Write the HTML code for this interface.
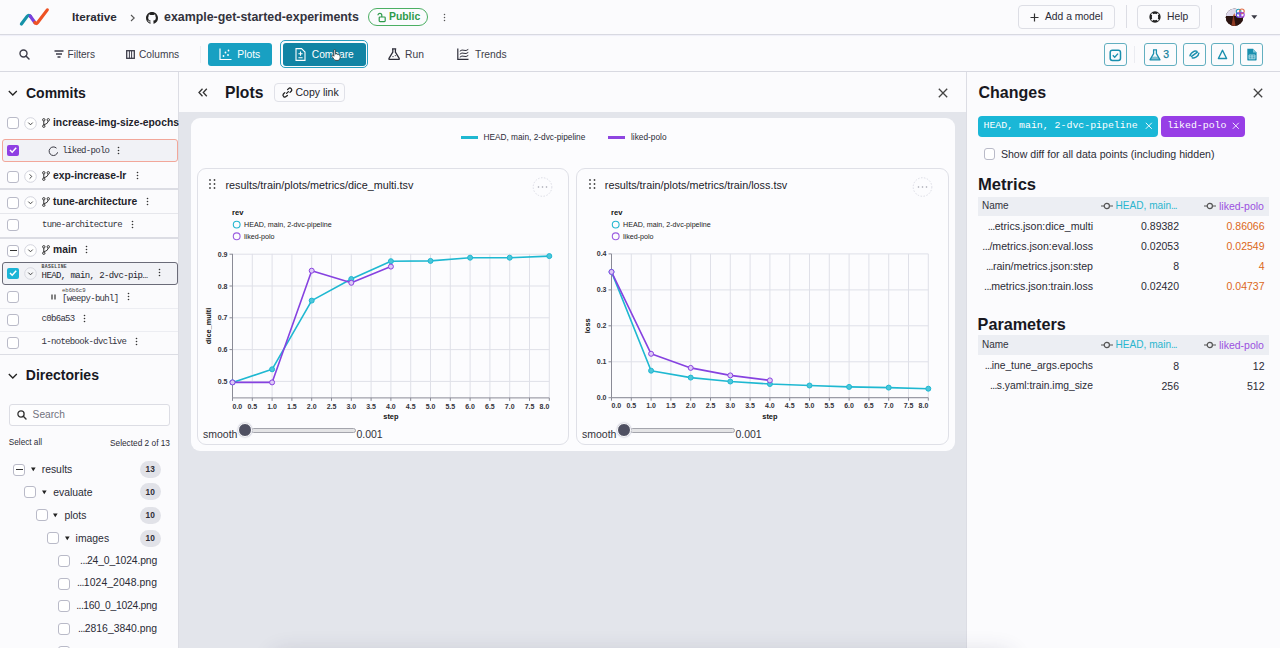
<!DOCTYPE html>
<html><head><meta charset="utf-8"><title>Plots</title>
<style>
*{box-sizing:border-box;margin:0;padding:0}
html,body{width:1280px;height:648px;overflow:hidden}
body{position:relative;background:#fbfbfd;font-family:"Liberation Sans",Arial,sans-serif;color:#2b2b36}
.a{position:absolute}
.t{position:absolute;white-space:nowrap;line-height:1}
.mono{font-family:"Liberation Mono",monospace}
.b{font-weight:bold}
.hl{position:absolute;height:1px;background:#dcdde4}
.vl{position:absolute;width:1px;background:#dcdde4}
.btn{position:absolute;border:1px solid #dddee5;border-radius:4px}
.cb{position:absolute;width:12px;height:12px;border:1px solid #b9bac8;border-radius:3px;background:#fff}
.tbtn{position:absolute;border:1px solid #62afc0;border-radius:3px;height:23px;top:43px}
svg{position:absolute;overflow:visible}
</style></head><body>

<!-- ================= TOP BAR ================= -->
<svg style="left:0;top:0" width="60" height="34">
  <g fill="none" stroke-width="3.2" stroke-linecap="round" stroke-linejoin="round">
  <path d="M21.4 24 L27.1 16.4 Q28.8 14.2 30.5 16.4" stroke="#1592a8"/>
  <path d="M30.2 16 L34.8 22.5" stroke="#7a40dc"/>
  <path d="M34.8 22.5 Q36.2 24.5 37.7 22.6 L47.3 9.9" stroke="#ee5224"/>
  </g>
</svg>
<div class="t b" style="left:72px;top:11px;font-size:11.7px;color:#2a2a33">Iterative</div>
<svg style="left:129px;top:14px" width="8" height="8"><path d="M2 1 L5.2 4 L2 7" fill="none" stroke="#555" stroke-width="1.1"/></svg>
<svg style="left:146px;top:11.5px" width="12" height="12" viewBox="0 0 16 16"><path fill="#222" d="M8 0C3.58 0 0 3.58 0 8c0 3.54 2.29 6.53 5.47 7.59.4.07.55-.17.55-.38 0-.19-.01-.82-.01-1.49-2.01.37-2.53-.49-2.69-.94-.09-.23-.48-.94-.82-1.13-.28-.15-.68-.52-.01-.53.63-.01 1.08.58 1.23.82.72 1.21 1.87.87 2.33.66.07-.52.28-.87.51-1.07-1.78-.2-3.64-.89-3.64-3.95 0-.87.31-1.59.82-2.15-.08-.2-.36-1.02.08-2.12 0 0 .67-.21 2.2.82.64-.18 1.32-.27 2-.27.68 0 1.36.09 2 .27 1.53-1.04 2.2-.82 2.2-.82.44 1.1.16 1.92.08 2.12.51.56.82 1.27.82 2.15 0 3.07-1.87 3.75-3.65 3.95.29.25.54.73.54 1.48 0 1.07-.01 1.93-.01 2.2 0 .21.15.46.55.38A8.013 8.013 0 0016 8c0-4.42-3.58-8-8-8z"/></svg>
<div class="t b" style="left:164px;top:11px;font-size:12.4px;color:#33333d">example-get-started-experiments</div>
<div class="a" style="left:368px;top:8px;width:60px;height:18px;border:1px solid #4caf63;border-radius:9px"></div>
<svg style="left:377px;top:12px" width="9" height="11"><rect x="2.2" y="5" width="6" height="4.6" rx="0.8" fill="none" stroke="#2e9a4a" stroke-width="1.2"/><path d="M2.2 5 V3.2 A1.9 1.9 0 0 0 -1.6 3.2" transform="translate(2.6 0)" fill="none" stroke="#2e9a4a" stroke-width="1.2"/></svg>
<div class="t b" style="left:389px;top:12px;font-size:10.4px;color:#2e9a4a">Public</div>
<svg style="left:443px;top:13px" width="3" height="10"><circle cx="1.5" cy="1.5" r="0.75" fill="#555"/><circle cx="1.5" cy="4.5" r="0.75" fill="#555"/><circle cx="1.5" cy="7.5" r="0.75" fill="#555"/></svg>

<div class="btn" style="left:1018px;top:5px;width:97px;height:24px"></div>
<svg style="left:1030px;top:13px" width="9" height="9"><path d="M4.5 0.5 V8.5 M0.5 4.5 H8.5" stroke="#333" stroke-width="1.2"/></svg>
<div class="t" style="left:1045px;top:12px;font-size:10.3px;color:#2b2b36">Add a model</div>
<div class="vl" style="left:1126px;top:5px;height:23px"></div>
<div class="btn" style="left:1137px;top:5px;width:63px;height:24px"></div>
<svg style="left:1149px;top:11px" width="12" height="12"><circle cx="6" cy="6" r="4.4" fill="none" stroke="#222" stroke-width="2.5"/><path d="M2.6 2.6 L4.2 4.2 M9.4 2.6 L7.8 4.2 M2.6 9.4 L4.2 7.8 M9.4 9.4 L7.8 7.8" stroke="#fbfbfd" stroke-width="1.7"/></svg>
<div class="t" style="left:1167px;top:12px;font-size:10.3px;color:#2b2b36">Help</div>
<div class="vl" style="left:1211px;top:5px;height:23px"></div>
<svg style="left:1225px;top:8px" width="22" height="20">
  <defs><clipPath id="av"><circle cx="9.5" cy="9.2" r="8.7"/></clipPath></defs>
  <g clip-path="url(#av)"><rect x="0" y="0" width="20" height="20" fill="#2c1512"/><rect x="0" y="0" width="20" height="8" fill="#ddd9ec"/><path d="M0 9 Q5 7 9 9 Q14 7 20 9 V20 H0Z" fill="#2a1310"/><path d="M6 20 L8.5 6.5 L11 20Z" fill="#8e3a22"/><path d="M8 8 L9.3 5 L10.3 8Z" fill="#c0603a"/></g>
  <circle cx="15" cy="5.3" r="4.6" fill="#fff" opacity="0.85"/>
  <g fill="none" stroke-width="1.1"><circle cx="13.6" cy="3.6" r="2.3" stroke="#2a9fb8"/><circle cx="16.9" cy="3.3" r="2.3" stroke="#e0704a"/><circle cx="13.6" cy="7" r="2.3" stroke="#5b3fd8"/><circle cx="16.9" cy="6.8" r="2.3" stroke="#9a3fd8"/></g>
</svg>
<svg style="left:1251px;top:15px" width="7" height="5"><path d="M0.3 0.3 H6.3 L3.3 4Z" fill="#3a3a44"/></svg>

<div class="hl" style="left:0;top:34px;width:1280px;background:#d8d9e1;box-shadow:0 1px 1px rgba(120,120,200,0.10)"></div>

<!-- ================= TOOLBAR ================= -->
<svg style="left:19px;top:48.5px" width="11" height="11"><circle cx="4.5" cy="4.5" r="3.5" fill="none" stroke="#3d3d4a" stroke-width="1.4"/><path d="M7 7 L10 10" stroke="#3d3d4a" stroke-width="1.5" stroke-linecap="round"/></svg>
<svg style="left:54px;top:50px" width="10" height="9"><path d="M0.5 1 H9.5 M2 4 H8 M3.5 7 H6.5" stroke="#3d3d4a" stroke-width="1.3"/></svg>
<div class="t" style="left:67.5px;top:50px;font-size:10.1px;color:#3d3d4a">Filters</div>
<svg style="left:125.5px;top:50px" width="9" height="9"><rect x="0.7" y="0.7" width="7.6" height="7.6" fill="none" stroke="#3d3d4a" stroke-width="1.3"/><path d="M3.4 0.7 V8.3 M5.6 0.7 V8.3" stroke="#3d3d4a" stroke-width="1"/></svg>
<div class="t" style="left:139px;top:50px;font-size:10.2px;color:#3d3d4a">Columns</div>
<div class="vl" style="left:199.5px;top:46px;height:17px;background:#ebecf1"></div>

<div class="a" style="left:208px;top:43px;width:64px;height:23px;background:#18a0c2;border-radius:3px"></div>
<svg style="left:219px;top:48px" width="13" height="13"><path d="M1 0.5 V11.5 H12.5" fill="none" stroke="#fff" stroke-width="1.2"/><circle cx="4.5" cy="8" r="0.9" fill="#fff"/><circle cx="6.5" cy="4.5" r="0.9" fill="#fff"/><circle cx="9" cy="7" r="0.9" fill="#fff"/><circle cx="9.5" cy="2.5" r="0.9" fill="#fff"/></svg>
<div class="t" style="left:237.3px;top:49.5px;font-size:10.3px;color:#fff">Plots</div>

<div class="a" style="left:280px;top:40px;width:88px;height:28px;border:1.8px solid #2a9fc0;border-radius:5px"></div>
<div class="a" style="left:283px;top:42.5px;width:83px;height:23.5px;background:#1184a4;border-radius:3px"></div>
<svg style="left:295px;top:48px" width="11" height="13"><path d="M1 0.6 H6.5 L10 4 V12.4 H1 Z" fill="none" stroke="#fff" stroke-width="1.1"/><path d="M5.5 3.6 V7.8 M3.4 5.7 H7.6 M3.4 9.8 H7.6" fill="none" stroke="#fff" stroke-width="1.1"/></svg>
<div class="t" style="left:311.8px;top:49.5px;font-size:10.2px;color:#fff">Compare</div>
<svg style="left:330.8px;top:49.2px" width="10" height="12" viewBox="0 0 12 14"><path d="M3.5 1.5 Q3.5 0.5 4.5 0.5 Q5.5 0.5 5.5 1.5 V6 L6.5 5.5 Q7.5 5.5 8 6.5 Q9 6 9.5 7 Q10.5 7 11 8 V10.5 Q10.5 13 8.5 13.5 H6 Q4.5 13.5 3.5 12 L1 8.5 Q0.5 7.5 1.5 7.2 Q2.5 7 3.5 8.5Z" fill="#fff" stroke="#222" stroke-width="0.9"/></svg>

<svg style="left:388px;top:48px" width="13" height="13"><path d="M4 0.8 H8.2 M4.8 0.8 V4.2 L1 10.4 Q0.6 11.4 1.6 11.4 H10.6 Q11.6 11.4 11.2 10.4 L7.4 4.2 V0.8" fill="none" stroke="#2e2e3a" stroke-width="1.3" stroke-linejoin="round"/><circle cx="5" cy="8.6" r="0.7" fill="#2e2e3a"/><circle cx="7.3" cy="7.6" r="0.6" fill="#2e2e3a"/></svg>
<div class="t" style="left:405px;top:50px;font-size:10.3px;color:#3d3d4a">Run</div>
<svg style="left:457px;top:48px" width="13" height="13"><path d="M0.8 0.5 V11.3 H11.5" fill="none" stroke="#2e2e3a" stroke-width="1.2"/><path d="M2.8 9.2 Q5 7.3 7 8.3 Q9 9.2 11.3 7.4 M2.8 6.2 Q5 4.3 7 5.3 Q9 6.2 11.3 4.4 M2.8 3.2 Q5 1.3 7 2.3 Q9 3.2 11.3 1.4" fill="none" stroke="#2e2e3a" stroke-width="1"/></svg>
<div class="t" style="left:475px;top:50px;font-size:10.3px;color:#3d3d4a">Trends</div>

<!-- right toolbar icons -->
<div class="tbtn" style="left:1104px;width:23px"></div>
<svg style="left:1109px;top:48.5px" width="13" height="13"><rect x="1.2" y="1.2" width="10.3" height="10.3" rx="2.2" fill="none" stroke="#1a8fae" stroke-width="1.5"/><path d="M3.8 6.3 L5.7 8.2 L9 4.6" fill="none" stroke="#1a8fae" stroke-width="1.4"/></svg>
<div class="vl" style="left:1134px;top:46px;height:17px;background:#ebecf1"></div>
<div class="tbtn" style="left:1144px;width:33px"></div>
<svg style="left:1149px;top:48.5px" width="12" height="12"><path d="M4 0.8 H8 M4.6 0.8 V4.6 L1 10.8 H11 L7.4 4.6 V0.8" fill="none" stroke="#1a8fae" stroke-width="1.3" stroke-linejoin="round"/><path d="M2.6 8.2 Q6 7 9.4 8.2 L10.6 10.6 H1.4Z" fill="#1a8fae" opacity="0.55"/></svg>
<div class="t" style="left:1163.3px;top:49.6px;font-size:10.4px;color:#14809c;-webkit-text-stroke:0.25px #14809c">3</div>
<div class="tbtn" style="left:1183px;width:23px"></div>
<svg style="left:1188px;top:49px" width="13" height="11"><g fill="none" stroke="#1a8fae" stroke-width="1.5" stroke-linecap="round"><path d="M2 6.8 Q2.5 4 6 2.3 Q8 1.5 8.8 2.3"/><path d="M4.3 8.8 Q5.5 9.5 8 8.2 Q10.6 6.8 10.8 4.3"/><path d="M3.6 7.4 L9.4 3.2"/></g></svg>
<div class="tbtn" style="left:1211px;width:23px"></div>
<svg style="left:1217px;top:49px" width="11" height="11"><path d="M5.5 1.2 L9.6 9.5 H1.4 Z" fill="none" stroke="#1a8fae" stroke-width="1.4" stroke-linejoin="round"/></svg>
<div class="tbtn" style="left:1240px;width:23px"></div>
<svg style="left:1246px;top:47.5px" width="12" height="13"><path d="M1.3 0.8 H7 L10.6 4.4 V11.8 Q10.6 12.4 10 12.4 H1.9 Q1.3 12.4 1.3 11.8Z" fill="#1a8fae"/><path d="M7 0.8 V4.4 H10.6" fill="#7fc6d6"/><path d="M3 7 H9 V10.8 H3Z M3 8.9 H9 M6 7 V10.8" fill="none" stroke="#d8f1f6" stroke-width="0.7"/></svg>

<div class="hl" style="left:0;top:71px;width:1280px;background:#d8d9e1"></div>

<!-- ================= LEFT SIDEBAR ================= -->
<div class="vl" style="left:178px;top:72px;height:576px"></div>
<svg style="left:8px;top:90px" width="10" height="7"><path d="M0.8 1 L4.8 5 L8.8 1" fill="none" stroke="#222" stroke-width="1.3"/></svg>
<div class="t b" style="left:26px;top:86px;font-size:14px;color:#18181f">Commits</div>

<!-- row: increase-img-size-epochs -->
<div class="cb" style="left:7px;top:117px"></div>
<svg style="left:24px;top:117px" width="13" height="13"><circle cx="6.5" cy="6.5" r="5.8" fill="#fff" stroke="#cfd0da" stroke-width="0.9"/><path d="M4.3 5.6 L6.5 7.8 L8.7 5.6" fill="none" stroke="#444" stroke-width="1"/></svg>
<svg style="left:41.5px;top:118px" width="8" height="10"><circle cx="1.8" cy="1.8" r="1.2" fill="none" stroke="#333" stroke-width="1"/><circle cx="1.8" cy="8.2" r="1.2" fill="none" stroke="#333" stroke-width="1"/><circle cx="6.3" cy="1.8" r="1.2" fill="none" stroke="#333" stroke-width="1"/><path d="M1.8 3 V7 M6.3 3 Q6.3 5.5 1.8 7" fill="none" stroke="#333" stroke-width="1"/></svg>
<div class="t b" style="left:53px;top:117.5px;font-size:10.3px;color:#22222a">increase-img-size-epochs</div>

<!-- row: liked-polo (selected) -->
<div class="a" style="left:2px;top:139px;width:176px;height:23px;border:1px solid #f2a79a;border-radius:3px;background:#f1f2f6"></div>
<div class="a" style="left:7px;top:144.5px;width:12px;height:11px;border-radius:2px;background:#8f3fe3"></div>
<svg style="left:8px;top:145px" width="10" height="10"><path d="M2 5 L4.2 7.2 L8.2 2.8" fill="none" stroke="#fff" stroke-width="1.5"/></svg>
<svg style="left:47.5px;top:145.5px" width="11" height="11"><path d="M8.5 2.2 A4.3 4.3 0 1 0 9.6 6.3" fill="none" stroke="#3a3a44" stroke-width="1"/></svg>
<div class="t mono" style="left:62.3px;top:146.5px;font-size:9px;letter-spacing:-0.7px;color:#33333d">liked-polo</div>
<svg style="left:117px;top:146px" width="3" height="10"><circle cx="1.5" cy="1.5" r="0.8" fill="#333"/><circle cx="1.5" cy="4.5" r="0.8" fill="#333"/><circle cx="1.5" cy="7.5" r="0.8" fill="#333"/></svg>

<!-- row: exp-increase-lr -->
<div class="cb" style="left:7px;top:170.5px"></div>
<svg style="left:24px;top:170px" width="13" height="13"><circle cx="6.5" cy="6.5" r="5.8" fill="#fff" stroke="#cfd0da" stroke-width="0.9"/><path d="M5.6 4.3 L7.8 6.5 L5.6 8.7" fill="none" stroke="#444" stroke-width="1"/></svg>
<svg style="left:41.5px;top:171px" width="8" height="10"><circle cx="1.8" cy="1.8" r="1.2" fill="none" stroke="#333" stroke-width="1"/><circle cx="1.8" cy="8.2" r="1.2" fill="none" stroke="#333" stroke-width="1"/><circle cx="6.3" cy="1.8" r="1.2" fill="none" stroke="#333" stroke-width="1"/><path d="M1.8 3 V7 M6.3 3 Q6.3 5.5 1.8 7" fill="none" stroke="#333" stroke-width="1"/></svg>
<div class="t b" style="left:53px;top:170.5px;font-size:10.3px;color:#22222a">exp-increase-lr</div>
<svg style="left:135.5px;top:171px" width="3" height="10"><circle cx="1.5" cy="1.5" r="0.8" fill="#333"/><circle cx="1.5" cy="4.5" r="0.8" fill="#333"/><circle cx="1.5" cy="7.5" r="0.8" fill="#333"/></svg>
<div class="hl" style="left:0;top:188px;width:178px;height:1.5px"></div>

<!-- row: tune-architecture -->
<div class="cb" style="left:7px;top:196.5px"></div>
<svg style="left:24px;top:196px" width="13" height="13"><circle cx="6.5" cy="6.5" r="5.8" fill="#fff" stroke="#cfd0da" stroke-width="0.9"/><path d="M4.3 5.6 L6.5 7.8 L8.7 5.6" fill="none" stroke="#444" stroke-width="1"/></svg>
<svg style="left:41.5px;top:197px" width="8" height="10"><circle cx="1.8" cy="1.8" r="1.2" fill="none" stroke="#333" stroke-width="1"/><circle cx="1.8" cy="8.2" r="1.2" fill="none" stroke="#333" stroke-width="1"/><circle cx="6.3" cy="1.8" r="1.2" fill="none" stroke="#333" stroke-width="1"/><path d="M1.8 3 V7 M6.3 3 Q6.3 5.5 1.8 7" fill="none" stroke="#333" stroke-width="1"/></svg>
<div class="t b" style="left:53px;top:196.5px;font-size:10.3px;color:#22222a">tune-architecture</div>
<svg style="left:146px;top:197px" width="3" height="10"><circle cx="1.5" cy="1.5" r="0.8" fill="#333"/><circle cx="1.5" cy="4.5" r="0.8" fill="#333"/><circle cx="1.5" cy="7.5" r="0.8" fill="#333"/></svg>
<div class="hl" style="left:0;top:212.5px;width:178px;background:#e6e7ec"></div>
<div class="cb" style="left:7px;top:219px"></div>
<div class="t mono" style="left:42px;top:221px;font-size:9px;letter-spacing:-0.7px;color:#33333d">tune-architecture</div>
<svg style="left:130.5px;top:219.5px" width="3" height="10"><circle cx="1.5" cy="1.5" r="0.8" fill="#333"/><circle cx="1.5" cy="4.5" r="0.8" fill="#333"/><circle cx="1.5" cy="7.5" r="0.8" fill="#333"/></svg>
<div class="hl" style="left:0;top:237px;width:178px;height:1.5px"></div>

<!-- row: main -->
<div class="cb" style="left:7px;top:244.5px"></div>
<div class="a" style="left:9.5px;top:250px;width:7px;height:1.3px;background:#333"></div>
<svg style="left:24px;top:244px" width="13" height="13"><circle cx="6.5" cy="6.5" r="5.8" fill="#fff" stroke="#cfd0da" stroke-width="0.9"/><path d="M4.3 5.6 L6.5 7.8 L8.7 5.6" fill="none" stroke="#444" stroke-width="1"/></svg>
<svg style="left:41.5px;top:245px" width="8" height="10"><circle cx="1.8" cy="1.8" r="1.2" fill="none" stroke="#333" stroke-width="1"/><circle cx="1.8" cy="8.2" r="1.2" fill="none" stroke="#333" stroke-width="1"/><circle cx="6.3" cy="1.8" r="1.2" fill="none" stroke="#333" stroke-width="1"/><path d="M1.8 3 V7 M6.3 3 Q6.3 5.5 1.8 7" fill="none" stroke="#333" stroke-width="1"/></svg>
<div class="t b" style="left:53px;top:244.5px;font-size:10.3px;color:#22222a">main</div>
<svg style="left:84.5px;top:245px" width="3" height="10"><circle cx="1.5" cy="1.5" r="0.8" fill="#333"/><circle cx="1.5" cy="4.5" r="0.8" fill="#333"/><circle cx="1.5" cy="7.5" r="0.8" fill="#333"/></svg>

<!-- row: HEAD baseline -->
<div class="a" style="left:2px;top:262px;width:176px;height:22.5px;border:1px solid #6a6b78;border-radius:3px;background:#f1f2f6"></div>
<div class="a" style="left:7px;top:267.5px;width:12px;height:11.5px;border-radius:2px;background:#1cb4d6"></div>
<svg style="left:8px;top:268px" width="10" height="10"><path d="M2 5 L4.2 7.2 L8.2 2.8" fill="none" stroke="#fff" stroke-width="1.5"/></svg>
<svg style="left:24px;top:266.5px" width="13" height="13"><circle cx="6.5" cy="6.5" r="5.8" fill="#f4f5f8" stroke="#d4d5de" stroke-width="0.9"/><path d="M4.3 5.6 L6.5 7.8 L8.7 5.6" fill="none" stroke="#444" stroke-width="1"/></svg>
<div class="t mono b" style="left:41.6px;top:264.8px;font-size:4.8px;color:#444;letter-spacing:0.3px">BASELINE</div>
<div class="t mono" style="left:41.6px;top:272px;font-size:9px;letter-spacing:-0.6px;color:#25252e">HEAD, main, 2-dvc-pip…</div>
<svg style="left:157.5px;top:268px" width="3" height="10"><circle cx="1.5" cy="1.5" r="0.8" fill="#333"/><circle cx="1.5" cy="4.5" r="0.8" fill="#333"/><circle cx="1.5" cy="7.5" r="0.8" fill="#333"/></svg>

<!-- row: eb6b6c9 -->
<div class="cb" style="left:7px;top:290.5px"></div>
<svg style="left:50.5px;top:293.5px" width="5" height="6"><path d="M1 0.5 V5.5 M4 0.5 V5.5" stroke="#333" stroke-width="1.2"/></svg>
<div class="t mono" style="left:62px;top:288px;font-size:5.6px;color:#444">eb6b6c9</div>
<div class="t mono" style="left:62px;top:295.3px;font-size:9px;letter-spacing:-0.7px;color:#33333d">[weepy-buhl]</div>
<svg style="left:127px;top:291.5px" width="3" height="10"><circle cx="1.5" cy="1.5" r="0.8" fill="#333"/><circle cx="1.5" cy="4.5" r="0.8" fill="#333"/><circle cx="1.5" cy="7.5" r="0.8" fill="#333"/></svg>

<div class="hl" style="left:0;top:307.5px;width:178px;background:#ecedf2"></div>
<div class="hl" style="left:0;top:331px;width:178px;background:#ecedf2"></div>
<!-- row: c0b6a53 -->
<div class="cb" style="left:7px;top:313.5px"></div>
<div class="t mono" style="left:41.6px;top:315.2px;font-size:9px;letter-spacing:-0.7px;color:#33333d">c0b6a53</div>
<svg style="left:83px;top:314px" width="3" height="10"><circle cx="1.5" cy="1.5" r="0.8" fill="#333"/><circle cx="1.5" cy="4.5" r="0.8" fill="#333"/><circle cx="1.5" cy="7.5" r="0.8" fill="#333"/></svg>

<!-- row: 1-notebook-dvclive -->
<div class="cb" style="left:7px;top:336.5px"></div>
<div class="t mono" style="left:41.6px;top:338.2px;font-size:9px;letter-spacing:-0.7px;color:#33333d">1-notebook-dvclive</div>
<svg style="left:135px;top:337px" width="3" height="10"><circle cx="1.5" cy="1.5" r="0.8" fill="#333"/><circle cx="1.5" cy="4.5" r="0.8" fill="#333"/><circle cx="1.5" cy="7.5" r="0.8" fill="#333"/></svg>
<div class="hl" style="left:0;top:353.5px;width:178px"></div>

<!-- Directories -->
<svg style="left:8px;top:373px" width="10" height="7"><path d="M0.8 1 L4.8 5 L8.8 1" fill="none" stroke="#222" stroke-width="1.3"/></svg>
<div class="t b" style="left:25.8px;top:368px;font-size:14px;color:#18181f">Directories</div>
<div class="a" style="left:8.5px;top:404px;width:161px;height:21.5px;border:1px solid #dcdde4;border-radius:3px;background:#fdfdfe"></div>
<svg style="left:16.5px;top:410px" width="10" height="10"><circle cx="4" cy="4" r="3.1" fill="none" stroke="#333" stroke-width="1.3"/><path d="M6.3 6.3 L9 9" stroke="#333" stroke-width="1.4" stroke-linecap="round"/></svg>
<div class="t" style="left:32.6px;top:409.5px;font-size:10.2px;color:#71717d">Search</div>
<div class="t" style="left:8.8px;top:439px;font-size:8.2px;color:#2b2b36">Select all</div>
<div class="t" style="left:110px;top:439px;font-size:8.3px;color:#2b2b36">Selected 2 of 13</div>

<!-- tree -->
<div class="cb" style="left:13px;top:463.5px"></div>
<div class="a" style="left:15.5px;top:469px;width:7px;height:1.3px;background:#333"></div>
<svg style="left:30.5px;top:467px" width="5" height="5"><path d="M0 0.5 H4.6 L2.3 4.2Z" fill="#222"/></svg>
<div class="t" style="left:41.7px;top:465.0px;font-size:10.4px;color:#2b2b36">results</div>
<div class="a" style="left:140px;top:460.8px;width:20.5px;height:17px;border-radius:8.5px;background:#e1e2e8"></div>
<div class="t b" style="left:140.2px;top:465.2px;width:20px;text-align:center;font-size:8.3px;color:#2e2e36">13</div>

<div class="cb" style="left:24.3px;top:486px"></div>
<svg style="left:42px;top:489.5px" width="5" height="5"><path d="M0 0.5 H4.6 L2.3 4.2Z" fill="#222"/></svg>
<div class="t" style="left:53.2px;top:487.5px;font-size:10.4px;color:#2b2b36">evaluate</div>
<div class="a" style="left:140px;top:483.3px;width:20.5px;height:17px;border-radius:8.5px;background:#e1e2e8"></div>
<div class="t b" style="left:140.2px;top:487.7px;width:20px;text-align:center;font-size:8.3px;color:#2e2e36">10</div>

<div class="cb" style="left:35.7px;top:509px"></div>
<svg style="left:53.2px;top:512.5px" width="5" height="5"><path d="M0 0.5 H4.6 L2.3 4.2Z" fill="#222"/></svg>
<div class="t" style="left:64.5px;top:510.5px;font-size:10.4px;color:#2b2b36">plots</div>
<div class="a" style="left:140px;top:506.8px;width:20.5px;height:17px;border-radius:8.5px;background:#e1e2e8"></div>
<div class="t b" style="left:140.2px;top:511.2px;width:20px;text-align:center;font-size:8.3px;color:#2e2e36">10</div>

<div class="cb" style="left:47px;top:532px"></div>
<svg style="left:64.5px;top:535.5px" width="5" height="5"><path d="M0 0.5 H4.6 L2.3 4.2Z" fill="#222"/></svg>
<div class="t" style="left:75.6px;top:533.5px;font-size:10.4px;color:#2b2b36">images</div>
<div class="a" style="left:140px;top:529.8px;width:20.5px;height:17px;border-radius:8.5px;background:#e1e2e8"></div>
<div class="t b" style="left:140.2px;top:534.2px;width:20px;text-align:center;font-size:8.3px;color:#2e2e36">10</div>

<div class="cb" style="left:58.3px;top:555px"></div>
<div class="t" style="right:1123px;top:555.5px;font-size:10.4px;letter-spacing:-0.17px;color:#2b2b36"><span style="letter-spacing:-0.6px">...</span>24_0_1024.png</div>
<div class="cb" style="left:58.3px;top:577.5px"></div>
<div class="t" style="right:1123px;top:578px;font-size:10.4px;letter-spacing:0.07px;color:#2b2b36"><span style="letter-spacing:-0.6px">...</span>1024_2048.png</div>
<div class="cb" style="left:58.3px;top:600px"></div>
<div class="t" style="right:1123px;top:600.5px;font-size:10.4px;letter-spacing:-0.3px;color:#2b2b36"><span style="letter-spacing:-0.6px">...</span>160_0_1024.png</div>
<div class="cb" style="left:58.3px;top:623px"></div>
<div class="t" style="right:1123px;top:623.5px;font-size:10.4px;letter-spacing:0.0px;color:#2b2b36"><span style="letter-spacing:-0.6px">...</span>2816_3840.png</div>
<div class="cb" style="left:58.3px;top:646px"></div>

<!-- ================= MIDDLE ================= -->
<div class="a" style="left:179px;top:112px;width:787px;height:536px;background:#e3e5eb"></div>
<svg style="left:197.5px;top:88px" width="10" height="9"><path d="M4.5 0.8 L1 4.5 L4.5 8.2 M8.8 0.8 L5.3 4.5 L8.8 8.2" fill="none" stroke="#333" stroke-width="1.3"/></svg>
<div class="t b" style="left:225px;top:85px;font-size:15.7px;color:#18181f">Plots</div>
<div class="btn" style="left:274px;top:83px;width:71px;height:18.5px;border-color:#e0e1e8"></div>
<svg style="left:281.5px;top:86.5px" width="11" height="11"><path d="M4.6 6.4 L6.4 4.6 M5.6 2.6 L6.8 1.4 Q8 0.4 9.2 1.6 Q10.4 2.8 9.4 4 L8 5.4 M5.4 8.4 L4 9.6 Q2.8 10.6 1.5 9.4 Q0.4 8.2 1.4 7 L2.8 5.6" fill="none" stroke="#222" stroke-width="1.3" stroke-linecap="round"/></svg>
<div class="t" style="left:295.5px;top:87px;font-size:10.5px;color:#22222a">Copy link</div>
<svg style="left:937.5px;top:87.5px" width="10" height="10"><path d="M0.8 0.8 L9.2 9.2 M9.2 0.8 L0.8 9.2" stroke="#444" stroke-width="1.3"/></svg>

<div class="a" style="left:191px;top:117.5px;width:763.5px;height:333.5px;background:#fcfcfe;border-radius:9px"></div>
<div class="a" style="left:460.5px;top:136px;width:17px;height:2.6px;background:#1fb8d1"></div>
<div class="t" style="left:483.4px;top:133px;font-size:8.3px;color:#2b2b36">HEAD, main, 2-dvc-pipeline</div>
<div class="a" style="left:608px;top:136px;width:17px;height:2.6px;background:#8e45e0"></div>
<div class="t" style="left:631px;top:133px;font-size:8.3px;color:#2b2b36">liked-polo</div>

<div class="a" style="left:196.5px;top:168.3px;width:372.5px;height:277px;border:1px solid #dfe0e7;border-radius:9px;background:#fcfcfe"></div>
<div class="a" style="left:576px;top:168.3px;width:373px;height:277px;border:1px solid #dfe0e7;border-radius:9px;background:#fcfcfe"></div>
<svg style="left:209px;top:179px" width="7" height="11"><g fill="#444"><circle cx="1" cy="1" r="0.9"/><circle cx="5.5" cy="1" r="0.9"/><circle cx="1" cy="5" r="0.9"/><circle cx="5.5" cy="5" r="0.9"/><circle cx="1" cy="9" r="0.9"/><circle cx="5.5" cy="9" r="0.9"/></g></svg>
<div class="t" style="left:225.5px;top:179.5px;font-size:10.8px;color:#22222a">results/train/plots/metrics/dice_multi.tsv</div>
<svg style="left:532px;top:176.5px" width="21" height="21"><circle cx="10.5" cy="10" r="9.3" fill="none" stroke="#dcdde6" stroke-width="1" stroke-dasharray="1.5 1.5"/><g fill="#a0a1ad"><circle cx="6.5" cy="10" r="0.8"/><circle cx="10.5" cy="10" r="0.8"/><circle cx="14.5" cy="10" r="0.8"/></g></svg>
<svg style="left:588.5px;top:179px" width="7" height="11"><g fill="#444"><circle cx="1" cy="1" r="0.9"/><circle cx="5.5" cy="1" r="0.9"/><circle cx="1" cy="5" r="0.9"/><circle cx="5.5" cy="5" r="0.9"/><circle cx="1" cy="9" r="0.9"/><circle cx="5.5" cy="9" r="0.9"/></g></svg>
<div class="t" style="left:604.8px;top:179.5px;font-size:10.8px;color:#22222a">results/train/plots/metrics/train/loss.tsv</div>
<svg style="left:911.5px;top:176.5px" width="21" height="21"><circle cx="10.5" cy="10" r="9.3" fill="none" stroke="#dcdde6" stroke-width="1" stroke-dasharray="1.5 1.5"/><g fill="#a0a1ad"><circle cx="6.5" cy="10" r="0.8"/><circle cx="10.5" cy="10" r="0.8"/><circle cx="14.5" cy="10" r="0.8"/></g></svg>

<svg style="left:0;top:0" width="1280" height="648" class="ch">
<style>
.ch .g{stroke:#dfe0e8;stroke-width:1}
.ch .ax{stroke:#8a8b96;stroke-width:1}
.ch text{font-family:"Liberation Sans",Arial,sans-serif}
.ch .tk{font-size:7px;fill:#33333b;font-weight:bold}
.ch .al{font-size:7.4px;fill:#111;font-weight:bold}
.ch .rv{font-size:7.6px;fill:#111;font-weight:bold}
.ch .lg{font-size:7.15px;fill:#222}
</style>
<line x1="232.5" y1="253.9" x2="232.5" y2="397.9" class="g"/>
<line x1="252.3" y1="253.9" x2="252.3" y2="397.9" class="g"/>
<line x1="272.1" y1="253.9" x2="272.1" y2="397.9" class="g"/>
<line x1="291.9" y1="253.9" x2="291.9" y2="397.9" class="g"/>
<line x1="311.7" y1="253.9" x2="311.7" y2="397.9" class="g"/>
<line x1="331.5" y1="253.9" x2="331.5" y2="397.9" class="g"/>
<line x1="351.3" y1="253.9" x2="351.3" y2="397.9" class="g"/>
<line x1="371.1" y1="253.9" x2="371.1" y2="397.9" class="g"/>
<line x1="390.9" y1="253.9" x2="390.9" y2="397.9" class="g"/>
<line x1="410.7" y1="253.9" x2="410.7" y2="397.9" class="g"/>
<line x1="430.5" y1="253.9" x2="430.5" y2="397.9" class="g"/>
<line x1="450.3" y1="253.9" x2="450.3" y2="397.9" class="g"/>
<line x1="470.1" y1="253.9" x2="470.1" y2="397.9" class="g"/>
<line x1="489.9" y1="253.9" x2="489.9" y2="397.9" class="g"/>
<line x1="509.7" y1="253.9" x2="509.7" y2="397.9" class="g"/>
<line x1="529.5" y1="253.9" x2="529.5" y2="397.9" class="g"/>
<line x1="549.3" y1="253.9" x2="549.3" y2="397.9" class="g"/>
<line x1="232.5" y1="254.2" x2="549.3" y2="254.2" class="g"/>
<line x1="229.5" y1="254.2" x2="232.5" y2="254.2" class="ax"/>
<text x="227.5" y="256.7" class="tk" text-anchor="end">0.9</text>
<line x1="232.5" y1="286.0" x2="549.3" y2="286.0" class="g"/>
<line x1="229.5" y1="286.0" x2="232.5" y2="286.0" class="ax"/>
<text x="227.5" y="288.5" class="tk" text-anchor="end">0.8</text>
<line x1="232.5" y1="317.8" x2="549.3" y2="317.8" class="g"/>
<line x1="229.5" y1="317.8" x2="232.5" y2="317.8" class="ax"/>
<text x="227.5" y="320.3" class="tk" text-anchor="end">0.7</text>
<line x1="232.5" y1="349.6" x2="549.3" y2="349.6" class="g"/>
<line x1="229.5" y1="349.6" x2="232.5" y2="349.6" class="ax"/>
<text x="227.5" y="352.1" class="tk" text-anchor="end">0.6</text>
<line x1="232.5" y1="381.4" x2="549.3" y2="381.4" class="g"/>
<line x1="229.5" y1="381.4" x2="232.5" y2="381.4" class="ax"/>
<text x="227.5" y="383.9" class="tk" text-anchor="end">0.5</text>
<line x1="232.5" y1="253.9" x2="232.5" y2="397.9" class="ax"/>
<line x1="232.5" y1="397.9" x2="549.3" y2="397.9" class="ax"/>
<line x1="232.5" y1="397.9" x2="232.5" y2="400.9" class="ax"/>
<text x="232.5" y="408.6" class="tk" text-anchor="start">0.0</text>
<line x1="252.3" y1="397.9" x2="252.3" y2="400.9" class="ax"/>
<text x="252.3" y="408.6" class="tk" text-anchor="middle">0.5</text>
<line x1="272.1" y1="397.9" x2="272.1" y2="400.9" class="ax"/>
<text x="272.1" y="408.6" class="tk" text-anchor="middle">1.0</text>
<line x1="291.9" y1="397.9" x2="291.9" y2="400.9" class="ax"/>
<text x="291.9" y="408.6" class="tk" text-anchor="middle">1.5</text>
<line x1="311.7" y1="397.9" x2="311.7" y2="400.9" class="ax"/>
<text x="311.7" y="408.6" class="tk" text-anchor="middle">2.0</text>
<line x1="331.5" y1="397.9" x2="331.5" y2="400.9" class="ax"/>
<text x="331.5" y="408.6" class="tk" text-anchor="middle">2.5</text>
<line x1="351.3" y1="397.9" x2="351.3" y2="400.9" class="ax"/>
<text x="351.3" y="408.6" class="tk" text-anchor="middle">3.0</text>
<line x1="371.1" y1="397.9" x2="371.1" y2="400.9" class="ax"/>
<text x="371.1" y="408.6" class="tk" text-anchor="middle">3.5</text>
<line x1="390.9" y1="397.9" x2="390.9" y2="400.9" class="ax"/>
<text x="390.9" y="408.6" class="tk" text-anchor="middle">4.0</text>
<line x1="410.7" y1="397.9" x2="410.7" y2="400.9" class="ax"/>
<text x="410.7" y="408.6" class="tk" text-anchor="middle">4.5</text>
<line x1="430.5" y1="397.9" x2="430.5" y2="400.9" class="ax"/>
<text x="430.5" y="408.6" class="tk" text-anchor="middle">5.0</text>
<line x1="450.3" y1="397.9" x2="450.3" y2="400.9" class="ax"/>
<text x="450.3" y="408.6" class="tk" text-anchor="middle">5.5</text>
<line x1="470.1" y1="397.9" x2="470.1" y2="400.9" class="ax"/>
<text x="470.1" y="408.6" class="tk" text-anchor="middle">6.0</text>
<line x1="489.9" y1="397.9" x2="489.9" y2="400.9" class="ax"/>
<text x="489.9" y="408.6" class="tk" text-anchor="middle">6.5</text>
<line x1="509.7" y1="397.9" x2="509.7" y2="400.9" class="ax"/>
<text x="509.7" y="408.6" class="tk" text-anchor="middle">7.0</text>
<line x1="529.5" y1="397.9" x2="529.5" y2="400.9" class="ax"/>
<text x="529.5" y="408.6" class="tk" text-anchor="middle">7.5</text>
<line x1="549.3" y1="397.9" x2="549.3" y2="400.9" class="ax"/>
<text x="549.3" y="408.6" class="tk" text-anchor="end">8.0</text>
<text x="390.9" y="418.9" class="al" text-anchor="middle">step</text>
<text transform="translate(211.0,325.9) rotate(-90)" class="al" text-anchor="middle">dice_multi</text>
<polyline points="232.5,382.4 272.1,369.3 311.7,300.6 351.3,279.0 390.9,261.2 430.5,260.9 470.1,257.7 509.7,257.7 549.3,256.1" fill="none" stroke="#1fb8d1" stroke-width="1.6" stroke-linejoin="round"/>
<polyline points="232.5,382.4 272.1,382.4 311.7,270.7 351.3,282.8 390.9,266.6" fill="none" stroke="#8642e0" stroke-width="1.6" stroke-linejoin="round"/>
<circle cx="232.5" cy="382.4" r="2.5" fill="#4cc6db" stroke="#1fb8d1" stroke-width="1"/>
<circle cx="272.1" cy="369.3" r="2.5" fill="#4cc6db" stroke="#1fb8d1" stroke-width="1"/>
<circle cx="311.7" cy="300.6" r="2.5" fill="#4cc6db" stroke="#1fb8d1" stroke-width="1"/>
<circle cx="351.3" cy="279.0" r="2.5" fill="#4cc6db" stroke="#1fb8d1" stroke-width="1"/>
<circle cx="390.9" cy="261.2" r="2.5" fill="#4cc6db" stroke="#1fb8d1" stroke-width="1"/>
<circle cx="430.5" cy="260.9" r="2.5" fill="#4cc6db" stroke="#1fb8d1" stroke-width="1"/>
<circle cx="470.1" cy="257.7" r="2.5" fill="#4cc6db" stroke="#1fb8d1" stroke-width="1"/>
<circle cx="509.7" cy="257.7" r="2.5" fill="#4cc6db" stroke="#1fb8d1" stroke-width="1"/>
<circle cx="549.3" cy="256.1" r="2.5" fill="#4cc6db" stroke="#1fb8d1" stroke-width="1"/>
<circle cx="232.5" cy="382.4" r="2.5" fill="#dccaf6" stroke="#8a43e0" stroke-width="1"/>
<circle cx="272.1" cy="382.4" r="2.5" fill="#dccaf6" stroke="#8a43e0" stroke-width="1"/>
<circle cx="311.7" cy="270.7" r="2.5" fill="#dccaf6" stroke="#8a43e0" stroke-width="1"/>
<circle cx="351.3" cy="282.8" r="2.5" fill="#dccaf6" stroke="#8a43e0" stroke-width="1"/>
<circle cx="390.9" cy="266.6" r="2.5" fill="#dccaf6" stroke="#8a43e0" stroke-width="1"/>
<text x="232.0" y="215.3" class="rv">rev</text>
<circle cx="236.7" cy="224.6" r="3.4" fill="none" stroke="#25b6cf" stroke-width="1.1"/>
<text x="244.0" y="227.3" class="lg">HEAD, main, 2-dvc-pipeline</text>
<circle cx="236.7" cy="236.3" r="3.4" fill="none" stroke="#9b5ee0" stroke-width="1.1"/>
<text x="244.0" y="239.0" class="lg">liked-polo</text>
<line x1="611.5" y1="253.9" x2="611.5" y2="397.7" class="g"/>
<line x1="631.3" y1="253.9" x2="631.3" y2="397.7" class="g"/>
<line x1="651.1" y1="253.9" x2="651.1" y2="397.7" class="g"/>
<line x1="670.9" y1="253.9" x2="670.9" y2="397.7" class="g"/>
<line x1="690.7" y1="253.9" x2="690.7" y2="397.7" class="g"/>
<line x1="710.5" y1="253.9" x2="710.5" y2="397.7" class="g"/>
<line x1="730.3" y1="253.9" x2="730.3" y2="397.7" class="g"/>
<line x1="750.1" y1="253.9" x2="750.1" y2="397.7" class="g"/>
<line x1="769.9" y1="253.9" x2="769.9" y2="397.7" class="g"/>
<line x1="789.7" y1="253.9" x2="789.7" y2="397.7" class="g"/>
<line x1="809.5" y1="253.9" x2="809.5" y2="397.7" class="g"/>
<line x1="829.3" y1="253.9" x2="829.3" y2="397.7" class="g"/>
<line x1="849.1" y1="253.9" x2="849.1" y2="397.7" class="g"/>
<line x1="868.9" y1="253.9" x2="868.9" y2="397.7" class="g"/>
<line x1="888.7" y1="253.9" x2="888.7" y2="397.7" class="g"/>
<line x1="908.5" y1="253.9" x2="908.5" y2="397.7" class="g"/>
<line x1="928.3" y1="253.9" x2="928.3" y2="397.7" class="g"/>
<line x1="611.5" y1="253.9" x2="928.3" y2="253.9" class="g"/>
<line x1="608.5" y1="253.9" x2="611.5" y2="253.9" class="ax"/>
<text x="606.5" y="256.4" class="tk" text-anchor="end">0.4</text>
<line x1="611.5" y1="289.9" x2="928.3" y2="289.9" class="g"/>
<line x1="608.5" y1="289.9" x2="611.5" y2="289.9" class="ax"/>
<text x="606.5" y="292.4" class="tk" text-anchor="end">0.3</text>
<line x1="611.5" y1="325.8" x2="928.3" y2="325.8" class="g"/>
<line x1="608.5" y1="325.8" x2="611.5" y2="325.8" class="ax"/>
<text x="606.5" y="328.3" class="tk" text-anchor="end">0.2</text>
<line x1="611.5" y1="361.8" x2="928.3" y2="361.8" class="g"/>
<line x1="608.5" y1="361.8" x2="611.5" y2="361.8" class="ax"/>
<text x="606.5" y="364.2" class="tk" text-anchor="end">0.1</text>
<line x1="611.5" y1="397.7" x2="928.3" y2="397.7" class="g"/>
<line x1="608.5" y1="397.7" x2="611.5" y2="397.7" class="ax"/>
<text x="606.5" y="400.2" class="tk" text-anchor="end">0.0</text>
<line x1="611.5" y1="253.9" x2="611.5" y2="397.7" class="ax"/>
<line x1="611.5" y1="397.7" x2="928.3" y2="397.7" class="ax"/>
<line x1="611.5" y1="397.7" x2="611.5" y2="400.7" class="ax"/>
<text x="611.5" y="408.4" class="tk" text-anchor="start">0.0</text>
<line x1="631.3" y1="397.7" x2="631.3" y2="400.7" class="ax"/>
<text x="631.3" y="408.4" class="tk" text-anchor="middle">0.5</text>
<line x1="651.1" y1="397.7" x2="651.1" y2="400.7" class="ax"/>
<text x="651.1" y="408.4" class="tk" text-anchor="middle">1.0</text>
<line x1="670.9" y1="397.7" x2="670.9" y2="400.7" class="ax"/>
<text x="670.9" y="408.4" class="tk" text-anchor="middle">1.5</text>
<line x1="690.7" y1="397.7" x2="690.7" y2="400.7" class="ax"/>
<text x="690.7" y="408.4" class="tk" text-anchor="middle">2.0</text>
<line x1="710.5" y1="397.7" x2="710.5" y2="400.7" class="ax"/>
<text x="710.5" y="408.4" class="tk" text-anchor="middle">2.5</text>
<line x1="730.3" y1="397.7" x2="730.3" y2="400.7" class="ax"/>
<text x="730.3" y="408.4" class="tk" text-anchor="middle">3.0</text>
<line x1="750.1" y1="397.7" x2="750.1" y2="400.7" class="ax"/>
<text x="750.1" y="408.4" class="tk" text-anchor="middle">3.5</text>
<line x1="769.9" y1="397.7" x2="769.9" y2="400.7" class="ax"/>
<text x="769.9" y="408.4" class="tk" text-anchor="middle">4.0</text>
<line x1="789.7" y1="397.7" x2="789.7" y2="400.7" class="ax"/>
<text x="789.7" y="408.4" class="tk" text-anchor="middle">4.5</text>
<line x1="809.5" y1="397.7" x2="809.5" y2="400.7" class="ax"/>
<text x="809.5" y="408.4" class="tk" text-anchor="middle">5.0</text>
<line x1="829.3" y1="397.7" x2="829.3" y2="400.7" class="ax"/>
<text x="829.3" y="408.4" class="tk" text-anchor="middle">5.5</text>
<line x1="849.1" y1="397.7" x2="849.1" y2="400.7" class="ax"/>
<text x="849.1" y="408.4" class="tk" text-anchor="middle">6.0</text>
<line x1="868.9" y1="397.7" x2="868.9" y2="400.7" class="ax"/>
<text x="868.9" y="408.4" class="tk" text-anchor="middle">6.5</text>
<line x1="888.7" y1="397.7" x2="888.7" y2="400.7" class="ax"/>
<text x="888.7" y="408.4" class="tk" text-anchor="middle">7.0</text>
<line x1="908.5" y1="397.7" x2="908.5" y2="400.7" class="ax"/>
<text x="908.5" y="408.4" class="tk" text-anchor="middle">7.5</text>
<line x1="928.3" y1="397.7" x2="928.3" y2="400.7" class="ax"/>
<text x="928.3" y="408.4" class="tk" text-anchor="end">8.0</text>
<text x="769.9" y="418.7" class="al" text-anchor="middle">step</text>
<text transform="translate(590.0,325.8) rotate(-90)" class="al" text-anchor="middle">loss</text>
<polyline points="611.5,271.9 651.1,370.7 690.7,377.6 730.3,381.5 769.9,384.0 809.5,385.5 849.1,386.9 888.7,387.6 928.3,388.7" fill="none" stroke="#1fb8d1" stroke-width="1.6" stroke-linejoin="round"/>
<polyline points="611.5,271.9 651.1,353.8 690.7,367.9 730.3,375.4 769.9,380.4" fill="none" stroke="#8642e0" stroke-width="1.6" stroke-linejoin="round"/>
<circle cx="611.5" cy="271.9" r="2.5" fill="#4cc6db" stroke="#1fb8d1" stroke-width="1"/>
<circle cx="651.1" cy="370.7" r="2.5" fill="#4cc6db" stroke="#1fb8d1" stroke-width="1"/>
<circle cx="690.7" cy="377.6" r="2.5" fill="#4cc6db" stroke="#1fb8d1" stroke-width="1"/>
<circle cx="730.3" cy="381.5" r="2.5" fill="#4cc6db" stroke="#1fb8d1" stroke-width="1"/>
<circle cx="769.9" cy="384.0" r="2.5" fill="#4cc6db" stroke="#1fb8d1" stroke-width="1"/>
<circle cx="809.5" cy="385.5" r="2.5" fill="#4cc6db" stroke="#1fb8d1" stroke-width="1"/>
<circle cx="849.1" cy="386.9" r="2.5" fill="#4cc6db" stroke="#1fb8d1" stroke-width="1"/>
<circle cx="888.7" cy="387.6" r="2.5" fill="#4cc6db" stroke="#1fb8d1" stroke-width="1"/>
<circle cx="928.3" cy="388.7" r="2.5" fill="#4cc6db" stroke="#1fb8d1" stroke-width="1"/>
<circle cx="611.5" cy="271.9" r="2.5" fill="#dccaf6" stroke="#8a43e0" stroke-width="1"/>
<circle cx="651.1" cy="353.8" r="2.5" fill="#dccaf6" stroke="#8a43e0" stroke-width="1"/>
<circle cx="690.7" cy="367.9" r="2.5" fill="#dccaf6" stroke="#8a43e0" stroke-width="1"/>
<circle cx="730.3" cy="375.4" r="2.5" fill="#dccaf6" stroke="#8a43e0" stroke-width="1"/>
<circle cx="769.9" cy="380.4" r="2.5" fill="#dccaf6" stroke="#8a43e0" stroke-width="1"/>
<text x="611.0" y="215.3" class="rv">rev</text>
<circle cx="615.7" cy="224.6" r="3.4" fill="none" stroke="#25b6cf" stroke-width="1.1"/>
<text x="623.0" y="227.3" class="lg">HEAD, main, 2-dvc-pipeline</text>
<circle cx="615.7" cy="236.3" r="3.4" fill="none" stroke="#9b5ee0" stroke-width="1.1"/>
<text x="623.0" y="239.0" class="lg">liked-polo</text>
</svg>

<div class="t" style="left:203px;top:428.5px;font-size:10.5px;color:#33333b">smooth</div>
<div class="a" style="left:250.5px;top:428px;width:105px;height:4.6px;background:#e4e4e6;border:1px solid #a4a5ad;border-radius:3px"></div>
<div class="a" style="left:238.3px;top:423.4px;width:14px;height:14px;border-radius:50%;background:#4f5062;border:1.3px solid #fff;box-shadow:0 0 1.5px 0.5px #c8c9d6"></div>
<div class="t" style="left:356.4px;top:429px;font-size:10.5px;color:#33333b">0.001</div>
<div class="t" style="left:582px;top:428.5px;font-size:10.5px;color:#33333b">smooth</div>
<div class="a" style="left:629.5px;top:428px;width:105px;height:4.6px;background:#e4e4e6;border:1px solid #a4a5ad;border-radius:3px"></div>
<div class="a" style="left:617.3px;top:423.4px;width:14px;height:14px;border-radius:50%;background:#4f5062;border:1.3px solid #fff;box-shadow:0 0 1.5px 0.5px #c8c9d6"></div>
<div class="t" style="left:735.4px;top:429px;font-size:10.5px;color:#33333b">0.001</div>

<!-- ================= RIGHT PANEL ================= -->
<div class="vl" style="left:966px;top:72px;height:576px"></div>
<div class="t b" style="left:978.5px;top:85px;font-size:16px;color:#18181f">Changes</div>
<svg style="left:1252.5px;top:87.5px" width="10" height="10"><path d="M0.8 0.8 L9.2 9.2 M9.2 0.8 L0.8 9.2" stroke="#444" stroke-width="1.3"/></svg>
<div class="a" style="left:978px;top:115.5px;width:179.5px;height:21px;border-radius:4px;background:#1ab7d7"></div>
<div class="t mono" style="left:983.5px;top:121px;font-size:9.9px;color:#fff">HEAD, main, 2-dvc-pipeline</div>
<svg style="left:1144.5px;top:121.5px" width="8" height="8"><path d="M0.8 0.8 L6.8 6.8 M6.8 0.8 L0.8 6.8" stroke="#e8fbff" stroke-width="1"/></svg>
<div class="a" style="left:1161px;top:115.5px;width:84px;height:21px;border-radius:4px;background:#973ee6"></div>
<div class="t mono" style="left:1167.2px;top:121px;font-size:9.9px;color:#fff">liked-polo</div>
<svg style="left:1232px;top:121.5px" width="8" height="8"><path d="M0.8 0.8 L6.8 6.8 M6.8 0.8 L0.8 6.8" stroke="#f3e8ff" stroke-width="1"/></svg>
<div class="cb" style="left:983.5px;top:148px;width:11.5px;height:11.5px"></div>
<div class="t" style="left:1000.9px;top:148.5px;font-size:10.6px;color:#2b2b36">Show diff for all data points (including hidden)</div>

<div class="t b" style="left:978px;top:177px;font-size:16.6px;color:#18181f">Metrics</div>
<div class="a" style="left:977.5px;top:196.5px;width:291.5px;height:19px;background:#eceef3"></div>
<div class="t" style="left:982px;top:200.5px;font-size:10px;color:#33333d">Name</div>
<svg style="left:1100.5px;top:202px" width="12" height="8"><circle cx="5.8" cy="4" r="2.6" fill="none" stroke="#555" stroke-width="1.2"/><path d="M0 4 H3.2 M8.4 4 H12" stroke="#555" stroke-width="1.2"/></svg>
<div class="t" style="left:1115.5px;top:200.5px;font-size:10.1px;color:#2ab6cf">HEAD, main<span style="letter-spacing:-0.9px">...</span></div>
<svg style="left:1204px;top:202px" width="12" height="8"><circle cx="5.8" cy="4" r="2.6" fill="none" stroke="#555" stroke-width="1.2"/><path d="M0 4 H3.2 M8.4 4 H12" stroke="#555" stroke-width="1.2"/></svg>
<div class="t" style="left:1219px;top:200.5px;font-size:10.5px;color:#9b50e0">liked-polo</div>

<div class="t" style="right:187px;top:221.0px;font-size:10.6px;color:#2b2b36"><span style="letter-spacing:-0.6px">...</span>etrics.json:dice_multi</div>
<div class="t" style="right:101px;top:221.0px;font-size:10.5px;color:#2b2b36">0.89382</div>
<div class="t" style="right:15.5px;top:221.0px;font-size:10.5px;color:#db6820">0.86066</div>
<div class="t" style="right:187px;top:241.2px;font-size:10.6px;color:#2b2b36"><span style="letter-spacing:-0.6px">...</span>/metrics.json:eval.loss</div>
<div class="t" style="right:101px;top:241.2px;font-size:10.5px;color:#2b2b36">0.02053</div>
<div class="t" style="right:15.5px;top:241.2px;font-size:10.5px;color:#db6820">0.02549</div>
<div class="t" style="right:187px;top:260.6px;font-size:10.6px;color:#2b2b36"><span style="letter-spacing:-0.6px">...</span>rain/metrics.json:step</div>
<div class="t" style="right:101px;top:260.6px;font-size:10.5px;color:#2b2b36">8</div>
<div class="t" style="right:15.5px;top:260.6px;font-size:10.5px;color:#db6820">4</div>
<div class="t" style="right:187px;top:280.7px;font-size:10.6px;color:#2b2b36"><span style="letter-spacing:-0.6px">...</span>metrics.json:train.loss</div>
<div class="t" style="right:101px;top:280.7px;font-size:10.5px;color:#2b2b36">0.02420</div>
<div class="t" style="right:15.5px;top:280.7px;font-size:10.5px;color:#db6820">0.04737</div>

<div class="t b" style="left:977.6px;top:315.8px;font-size:16.2px;color:#18181f">Parameters</div>
<div class="a" style="left:977.5px;top:335.2px;width:291.5px;height:19.4px;background:#eceef3"></div>
<div class="t" style="left:982px;top:339.5px;font-size:10px;color:#33333d">Name</div>
<svg style="left:1100.5px;top:341px" width="12" height="8"><circle cx="5.8" cy="4" r="2.6" fill="none" stroke="#555" stroke-width="1.2"/><path d="M0 4 H3.2 M8.4 4 H12" stroke="#555" stroke-width="1.2"/></svg>
<div class="t" style="left:1115.5px;top:339.5px;font-size:10.1px;color:#2ab6cf">HEAD, main<span style="letter-spacing:-0.9px">...</span></div>
<svg style="left:1204px;top:341px" width="12" height="8"><circle cx="5.8" cy="4" r="2.6" fill="none" stroke="#555" stroke-width="1.2"/><path d="M0 4 H3.2 M8.4 4 H12" stroke="#555" stroke-width="1.2"/></svg>
<div class="t" style="left:1219px;top:339.5px;font-size:10.5px;color:#9b50e0">liked-polo</div>
<div class="t" style="right:187px;top:360.6px;font-size:10.3px;color:#2b2b36"><span style="letter-spacing:-0.6px">...</span>ine_tune_args.epochs</div>
<div class="t" style="right:101px;top:360.6px;font-size:10.5px;color:#2b2b36">8</div>
<div class="t" style="right:15.5px;top:360.6px;font-size:10.5px;color:#2b2b36">12</div>
<div class="t" style="right:187px;top:380.6px;font-size:10.3px;color:#2b2b36"><span style="letter-spacing:-0.6px">...</span>s.yaml:train.img_size</div>
<div class="t" style="right:101px;top:380.6px;font-size:10.5px;color:#2b2b36">256</div>
<div class="t" style="right:15.5px;top:380.6px;font-size:10.5px;color:#2b2b36">512</div>

<div class="a" style="left:275px;top:654px;width:735px;height:40px;border-radius:8px;background:#fff;box-shadow:0 0 22px 2px rgba(50,50,90,0.16)"></div>
</body></html>
